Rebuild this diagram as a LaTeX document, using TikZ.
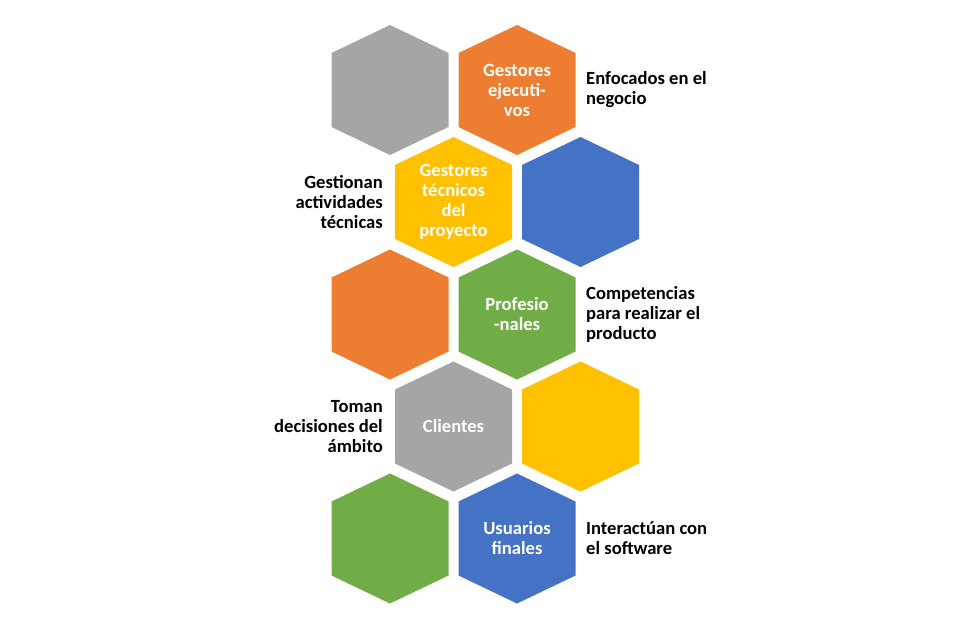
\documentclass[tikz,border=0pt]{standalone}
\usepackage{fontspec}
\setmainfont{Carlito}
\definecolor{hgray}{HTML}{A5A5A5}
\definecolor{horange}{HTML}{ED7D31}
\definecolor{hyellow}{HTML}{FFC000}
\definecolor{hblue}{HTML}{4472C4}
\definecolor{hgreen}{HTML}{70AD47}
\tikzset{
  hextext/.style={text=white, font=\fontsize{18.6}{20}\selectfont\bfseries, align=center, inner sep=0pt},
  sidel/.style={text=black, font=\fontsize{18.6}{20}\selectfont\bfseries, align=left, anchor=west, inner sep=0pt},
  sider/.style={text=black, font=\fontsize{18.6}{20}\selectfont\bfseries, align=right, anchor=east, inner sep=0pt},
}
\newcommand{\hexcell}[5]{%
  \fill[#4] (#2,#3) ++(0,65) -- ++(58.5,-28) -- ++(0,-74) -- ++(-58.5,-28) -- ++(-58.5,28) -- ++(0,74) -- cycle;
  \node[hextext] (#1) at (#2,#3) {#5};
}
\begin{document}
\begin{tikzpicture}[x=1pt,y=1pt]
\useasboundingbox (0,0) rectangle (975,-627);
\fill[white] (0,0) rectangle (975,-627);
% row 1
\hexcell{a1}{390}{-90}{hgray}{}
\hexcell{b1}{517}{-90}{horange}{Gestores\\ejecuti-\\vos}
% row 2
\hexcell{c2}{453.5}{-202}{hyellow}{Gestores\\técnicos\\del\\proyecto}
\hexcell{d2}{580.5}{-202}{hblue}{}
% row 3
\hexcell{a3}{390}{-314.5}{horange}{}
\hexcell{b3}{517}{-314.5}{hgreen}{Profesio\\-nales}
% row 4
\hexcell{c4}{453.5}{-426.5}{hgray}{Clientes}
\hexcell{d4}{580.5}{-426.5}{hyellow}{}
% row 5
\hexcell{a5}{390}{-538.5}{hgreen}{}
\hexcell{b5}{517}{-538.5}{hblue}{Usuarios\\finales}
% side labels
\node[sidel] (l1) at (586,-90) {Enfocados en el\\negocio};
\node[sider] (l2) at (383,-202) {Gestionan\\actividades\\técnicas};
\node[sidel] (l3) at (586,-314.5) {Competencias\\para realizar el\\producto};
\node[sider] (l4) at (383,-426.5) {Toman\\decisiones del\\ámbito};
\node[sidel] (l5) at (586,-538.5) {Interactúan con\\el software};
\end{tikzpicture}
\end{document}
